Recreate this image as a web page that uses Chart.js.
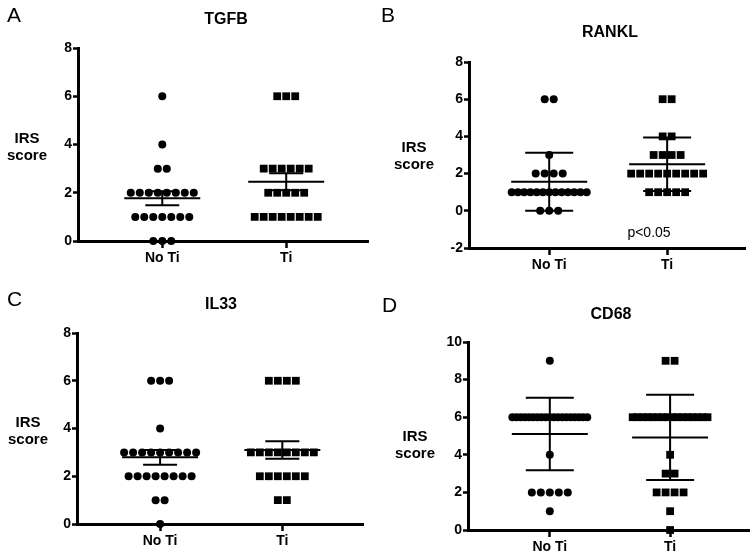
<!DOCTYPE html>
<html>
<head>
<meta charset="utf-8">
<script src="https://cdn.jsdelivr.net/npm/chart.js@4.4.1/dist/chart.umd.min.js"></script>
<style>
  body { margin: 0; background: #fff; }
  #page { position: relative; width: 755px; height: 556px; background: #fff; font-family: 'Liberation Sans', Arial, sans-serif; color: #000; }
  .panel { position: absolute; }
  .txt { position: absolute; white-space: nowrap; line-height: 1; }
  .letter { font-size: 21px; }
  .title { font-size: 16px; font-weight: bold; transform: translateX(-50%); }
  .ylab { font-size: 15px; font-weight: bold; line-height: 17px; text-align: center; transform: translateX(-50%); }
  .pval { font-size: 14px; transform: translateX(-50%); }
</style>
</head>
<body>
<div id="page">
  <div class="panel" style="left:0;top:0;width:377px;height:278px"><canvas id="cA"></canvas></div>
  <div class="panel" style="left:377px;top:0;width:378px;height:278px"><canvas id="cB"></canvas></div>
  <div class="panel" style="left:0;top:278px;width:377px;height:278px"><canvas id="cC"></canvas></div>
  <div class="panel" style="left:377px;top:278px;width:378px;height:278px"><canvas id="cD"></canvas></div>

  <div class="txt letter" style="left:7px;top:4px">A</div>
  <div class="txt letter" style="left:381px;top:4px">B</div>
  <div class="txt letter" style="left:7px;top:288px">C</div>
  <div class="txt letter" style="left:382px;top:294px">D</div>

  <div class="txt title" style="left:226px;top:11px">TGFB</div>
  <div class="txt title" style="left:610px;top:24px">RANKL</div>
  <div class="txt title" style="left:221px;top:296px">IL33</div>
  <div class="txt title" style="left:611px;top:306px">CD68</div>

  <div class="txt ylab" style="left:27px;top:129px">IRS<br>score</div>
  <div class="txt ylab" style="left:414px;top:138px">IRS<br>score</div>
  <div class="txt ylab" style="left:28px;top:413px">IRS<br>score</div>
  <div class="txt ylab" style="left:415px;top:427px">IRS<br>score</div>

  <div class="txt pval" style="left:649px;top:225px">p&lt;0.05</div>
</div>

<script>
// categories
const groups = ['No Ti', 'Ti'];

// IRS scores per sample
const tgfbNoTi = [6, 4, 3, 3, 2, 2, 2, 2, 2, 2, 2, 2, 1, 1, 1, 1, 1, 1, 1, 0, 0, 0];
const tgfbTi = [6, 6, 6, 3, 3, 3, 3, 3, 3, 2, 2, 2, 2, 2, 1, 1, 1, 1, 1, 1, 1, 1];
const ranklNoTi = [6, 6, 3, 2, 2, 2, 2, 1, 1, 1, 1, 1, 1, 1, 1, 1, 1, 1, 1, 1, 0, 0, 0];
const ranklTi = [6, 6, 4, 4, 3, 3, 3, 3, 2, 2, 2, 2, 2, 2, 2, 2, 2, 1, 1, 1, 1, 1];
const il33NoTi = [6, 6, 6, 4, 3, 3, 3, 3, 3, 3, 3, 3, 3, 2, 2, 2, 2, 2, 2, 2, 2, 1, 1, 0];
const il33Ti = [6, 6, 6, 6, 3, 3, 3, 3, 3, 3, 3, 3, 2, 2, 2, 2, 2, 2, 1, 1];
const cd68NoTi = [9, 6, 6, 6, 6, 6, 6, 6, 6, 6, 6, 6, 6, 6, 6, 6, 6, 6, 6, 6, 4, 2, 2, 2, 2, 2, 1];
const cd68Ti = [9, 9, 6, 6, 6, 6, 6, 6, 6, 6, 6, 6, 6, 6, 6, 6, 6, 6, 4, 3, 3, 2, 2, 2, 2, 1, 0];

// y axis ticks
const ticks8 = [0, 2, 4, 6, 8];
const ticksRankl = [-2, 0, 2, 4, 6, 8];
const ticks10 = [0, 2, 4, 6, 8, 10];

Chart.defaults.font.family = "'Liberation Sans', Arial, sans-serif";
Chart.defaults.color = '#000';

const X_MIN = 0.32, X_MAX = 2.66;

const mean = a => a.reduce((s, v) => s + v, 0) / a.length;
const sd = a => {
    const m = mean(a);
    return Math.sqrt(a.reduce((s, v) => s + (v - m) * (v - m), 0) / (a.length - 1));
};

// spread equal values sideways like a column scatter
function spread(vals, center, plotWidth) {
    const pxPerUnit = plotWidth / (X_MAX - X_MIN);
    const counts = {};
    vals.forEach(v => { counts[v] = (counts[v] || 0) + 1; });
    const pts = [];
    Object.keys(counts).forEach(k => {
        const n = counts[k];
        const step = n > 1 ? Math.min(9, 75 / (n - 1)) : 0;
        for (let i = 0; i < n; i++) {
            pts.push({ x: center + (i - (n - 1) / 2) * step / pxPerUnit, y: Number(k) });
        }
    });
    return pts;
}

// mean line + error bar (sem or sd)
const summaryBars = {
    id: 'summaryBars',
    afterDatasetsDraw(chart, args, opts) {
        const { ctx, scales: { x, y } } = chart;
        ctx.save();
        ctx.strokeStyle = '#000';
        ctx.lineWidth = 2;
        opts.sets.forEach((vals, i) => {
            const m = mean(vals);
            const e = opts.kind === 'sd' ? sd(vals) : sd(vals) / Math.sqrt(vals.length);
            const cx = x.getPixelForValue(i + 1);
            const yM = y.getPixelForValue(m), yLo = y.getPixelForValue(m - e), yHi = y.getPixelForValue(m + e);
            const cap = opts.kind === 'sd' ? 24 : 17;
            ctx.beginPath();
            ctx.moveTo(cx - 38, yM); ctx.lineTo(cx + 38, yM);
            ctx.moveTo(cx, yLo); ctx.lineTo(cx, yHi);
            ctx.moveTo(cx - cap, yLo); ctx.lineTo(cx + cap, yLo);
            ctx.moveTo(cx - cap, yHi); ctx.lineTo(cx + cap, yHi);
            ctx.stroke();
        });
        ctx.restore();
    }
};

function makePanel(id, noTi, ti, yTicks, kind, area) {
    // area: chart area inside the canvas [left, top, rightPad, bottom]
    const [left, top, rightPad, bottom] = area;
    const canvasH = 278;
    const canvasW = id === 'cA' || id === 'cC' ? 377 : 378;
    const plotWidth = canvasW - rightPad - left;
    new Chart(document.getElementById(id), {
        type: 'scatter',
        data: {
            datasets: [
                { data: spread(noTi, 1, plotWidth), pointStyle: 'circle', pointRadius: 4, backgroundColor: '#000', borderWidth: 0, clip: false },
                { data: spread(ti, 2, plotWidth), pointStyle: 'rect', pointRadius: 5.5, backgroundColor: '#000', borderWidth: 0, clip: false }
            ]
        },
        options: {
            responsive: true,
            maintainAspectRatio: false,
            animation: false,
            layout: { padding: { left: 0, top: top, right: rightPad, bottom: 0 } },
            plugins: {
                legend: { display: false },
                tooltip: { enabled: false },
                summaryBars: { sets: [noTi, ti], kind: kind }
            },
            scales: {
                x: {
                    type: 'linear',
                    min: X_MIN,
                    max: X_MAX,
                    afterBuildTicks: s => { s.ticks = [{ value: 1 }, { value: 2 }]; },
                    afterFit: s => { s.height = canvasH - bottom; },
                    grid: { drawOnChartArea: false, tickLength: 7, tickWidth: 2.5, tickColor: '#000' },
                    border: { width: 3, color: '#000' },
                    ticks: {
                        color: '#000', padding: 2, maxRotation: 0, autoSkip: false,
                        font: { size: 14, weight: 'bold' },
                        callback: v => groups[v - 1]
                    }
                },
                y: {
                    min: yTicks[0],
                    max: yTicks[yTicks.length - 1],
                    afterBuildTicks: s => { s.ticks = yTicks.map(v => ({ value: v })); },
                    afterFit: s => { s.width = left; },
                    grid: { drawOnChartArea: false, tickLength: 5, tickWidth: 2.5, tickColor: '#000' },
                    border: { width: 3, color: '#000' },
                    ticks: { color: '#000', padding: 1, font: { size: 14, weight: 'bold' } }
                }
            }
        },
        plugins: [summaryBars]
    });
}

makePanel('cA', tgfbNoTi, tgfbTi, ticks8, 'sem', [78, 48, 9, 241]);
makePanel('cB', ranklNoTi, ranklTi, ticksRankl, 'sd', [92, 62, 10, 248]);
makePanel('cC', il33NoTi, il33Ti, ticks8, 'sem', [77, 55, 14, 246]);
makePanel('cD', cd68NoTi, cd68Ti, ticks10, 'sd', [91, 64, 5, 252]);
</script>
</body>
</html>
